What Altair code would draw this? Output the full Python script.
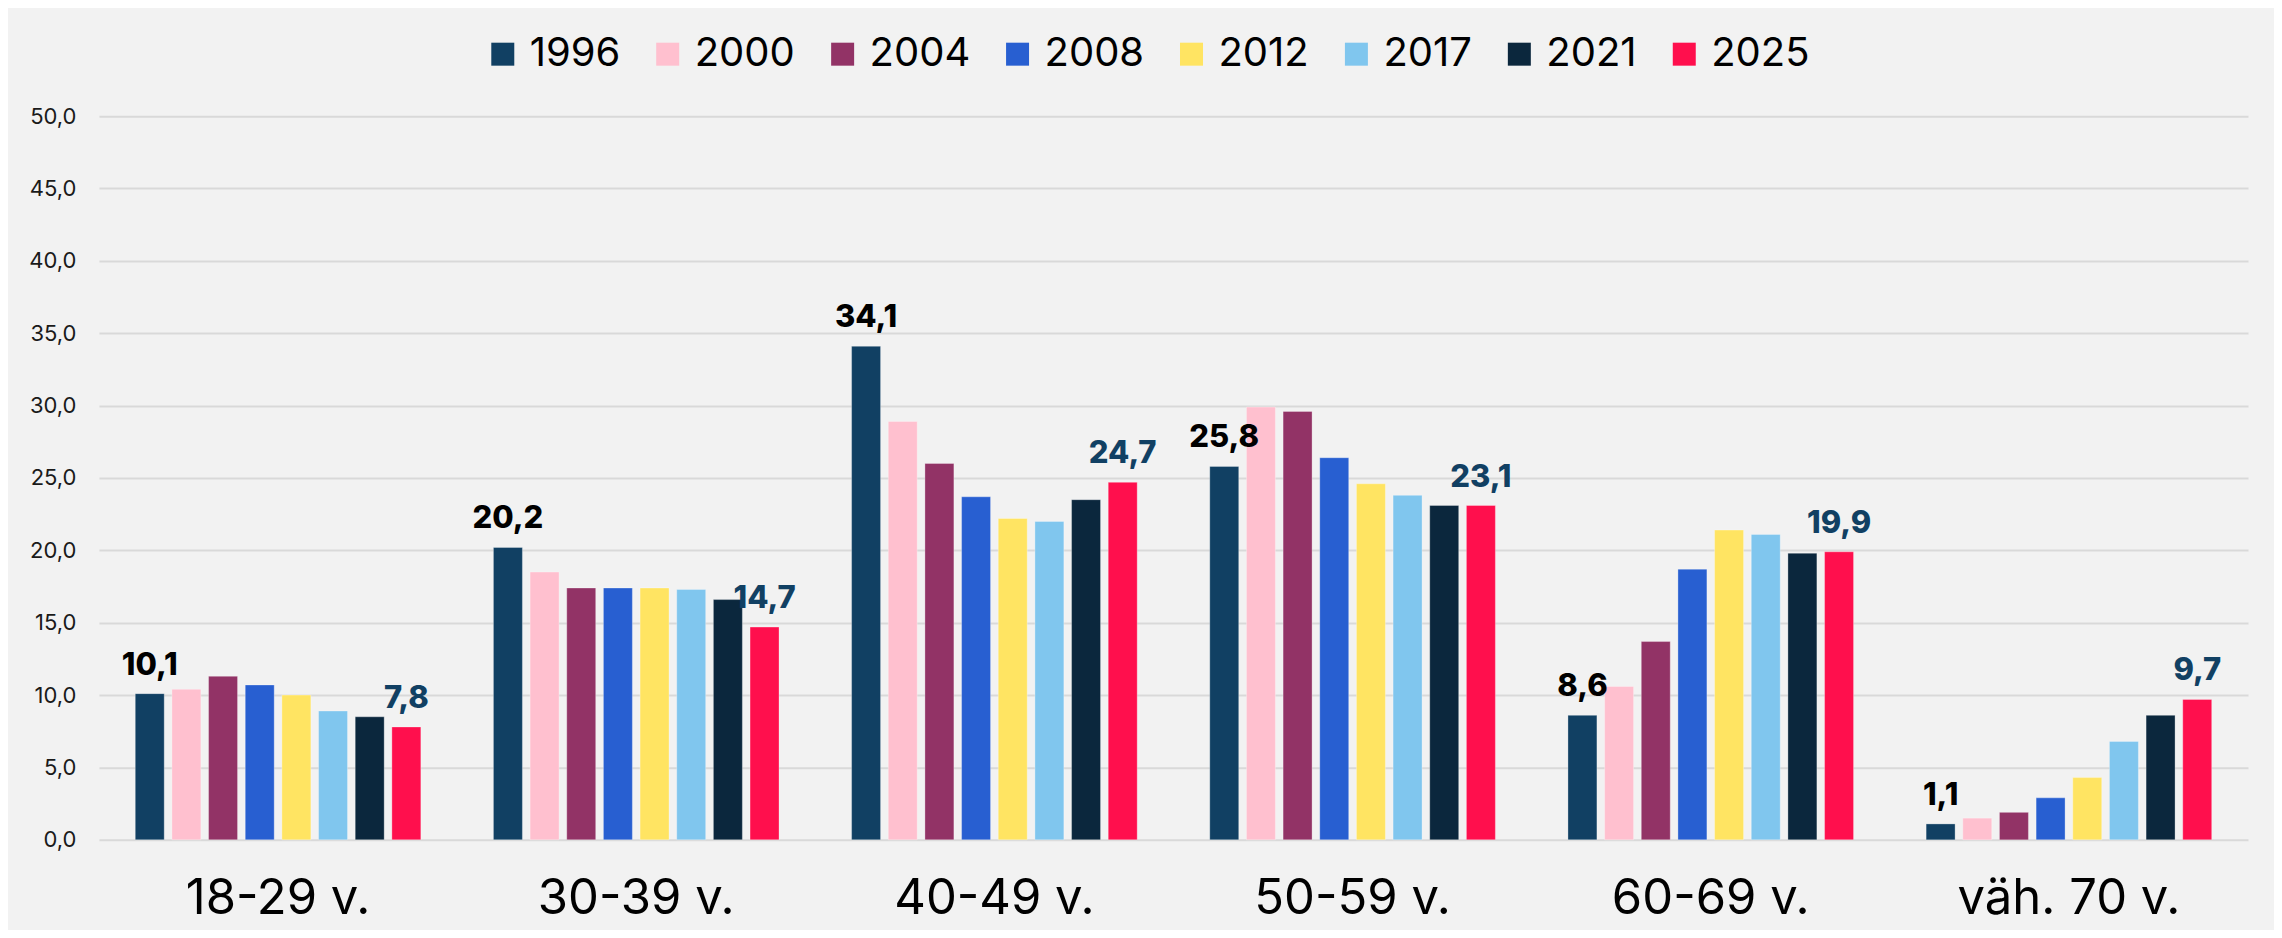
import altair as alt
import pandas as pd

groups = ["18-29 v.", "30-39 v.", "40-49 v.", "50-59 v.", "60-69 v.", "väh. 70 v."]
years = ["1996", "2000", "2004", "2008", "2012", "2017", "2021", "2025"]
v1996 = [10.1, 20.2, 34.1, 25.8, 8.6, 1.1]
v2000 = [10.4, 18.5, 28.9, 29.9, 10.6, 1.5]
v2004 = [11.3, 17.4, 26.0, 29.6, 13.7, 1.9]
v2008 = [10.7, 17.4, 23.7, 26.4, 18.7, 2.9]
v2012 = [10.0, 17.4, 22.2, 24.6, 21.4, 4.3]
v2017 = [8.9, 17.3, 22.0, 23.8, 21.1, 6.8]
v2021 = [8.5, 16.6, 23.5, 23.1, 19.8, 8.6]
v2025 = [7.8, 14.7, 24.7, 23.1, 19.9, 9.7]
colors = ["#114063", "#FFC0CF", "#923366", "#285FD1", "#FFE462", "#80C6EE", "#0B273D", "#FF0F4D"]

series = [v1996, v2000, v2004, v2008, v2012, v2017, v2021, v2025]
rows = []
for y, vals in zip(years, series):
    for g, v in zip(groups, vals):
        rows.append({"group": g, "year": y, "value": v,
                     "label": f"{v:.1f}".replace(".", ",")})
df = pd.DataFrame(rows)

FONT = "Inter"

x = alt.X("group:N", sort=groups, title=None,
          scale=alt.Scale(paddingInner=0, paddingOuter=0),
          axis=alt.Axis(labelAngle=0, labelFontSize=49, labelFont=FONT, labelColor="#000000",
                        labelPadding=35, labelLimit=1000, ticks=False, domain=False, grid=False))
xoff = alt.XOffset("year:N", sort=years,
                   scale=alt.Scale(paddingInner=0.21, paddingOuter=0.99))
y = alt.Y("value:Q", title=None,
          scale=alt.Scale(domain=[0, 50], nice=False),
          axis=alt.Axis(values=[0, 5, 10, 15, 20, 25, 30, 35, 40, 45, 50],
                        labelExpr="replace(format(datum.value, '.1f'), '.', ',')",
                        labelFontSize=22, labelFont=FONT, labelColor="#1a1a1a",
                        labelPadding=23, ticks=False, domain=False,
                        grid=True, gridColor="#D9D9D9", gridWidth=2))

bars = alt.Chart(df).mark_bar(stroke="white", strokeOpacity=0.3, strokeWidth=1).encode(
    x=x, xOffset=xoff, y=y,
    color=alt.Color("year:N", sort=years,
                    scale=alt.Scale(domain=years, range=colors),
                    legend=alt.Legend(title=None, orient="none", direction="horizontal",
                                      legendX=384, legendY=-82, padding=0,
                                      symbolType="square", symbolSize=529,
                                      symbolStrokeWidth=0, labelFontSize=40,
                                      labelFont=FONT, labelColor="#000000",
                                      labelOffset=7, columnPadding=27)),
)

lab_df = df[df["year"].isin(["1996", "2025"])].copy()
lab_df["tcolor"] = lab_df["year"].map({"1996": "#000000", "2025": "#114063"})

labels = alt.Chart(lab_df).mark_text(
    font=FONT, fontSize=31, fontWeight=800, baseline="alphabetic", dy=-19, align="center"
).encode(
    x=alt.X("group:N", sort=groups),
    xOffset=xoff,
    y=alt.Y("value:Q"),
    text="label:N",
    color=alt.Color("tcolor:N", scale=None),
)

chart = alt.layer(bars, labels).properties(
    width=2150, height=724,
    background="#F2F2F2",
    autosize=alt.AutoSizeParams(type="none"),
    padding={"left": 91, "top": 108, "right": 26, "bottom": 90},
).configure_view(strokeWidth=0)

chart.save("out.html", embed_options={"renderer": "svg", "actions": False})
